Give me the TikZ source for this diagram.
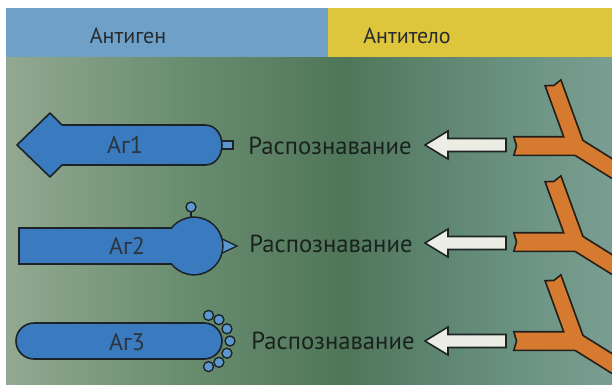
\documentclass[tikz,border=0pt]{standalone}
\usepackage{fontspec}
\setmainfont{PT Sans}

\definecolor{tissueA}{RGB}{196,204,192}
\definecolor{tissueB}{RGB}{160,178,158}
\definecolor{tissueC}{RGB}{104,140,110}
\definecolor{tissueD}{RGB}{80,118,90}
\definecolor{tissueE}{RGB}{108,148,132}
\definecolor{tissueF}{RGB}{142,173,166}
\definecolor{tissueG}{RGB}{168,189,184}
\pgfdeclarehorizontalshading{tissue}{100bp}{color(0bp)=(tissueA); color(4bp)=(tissueA); color(20bp)=(tissueB); color(40bp)=(tissueC); color(53bp)=(tissueD); color(68bp)=(tissueE); color(85bp)=(tissueF); color(100bp)=(tissueG)}

\tikzset{
  hdtext/.style={inner sep=0.75pt, font=\fontsize{16.5}{18}\selectfont, text={rgb, 255:red, 40; green, 44; blue, 46}},
  rectext/.style={inner sep=0.75pt, font=\fontsize{18.5}{20}\selectfont, text={rgb, 255:red, 26; green, 34; blue, 30}},
  aglabel/.style={inner sep=0.75pt, font=\fontsize{18}{20}\selectfont, text={rgb, 255:red, 44; green, 52; blue, 62}},
  agbody/.style={draw={rgb, 255:red, 28; green, 34; blue, 38}, line width=1.2pt, line join=round, fill={rgb, 255:red, 58; green, 122; blue, 190}},
  agline/.style={draw={rgb, 255:red, 28; green, 34; blue, 38}, line width=2.4pt},
  agfill/.style={fill={rgb, 255:red, 58; green, 122; blue, 190}},
  knob/.style={draw={rgb, 255:red, 28; green, 34; blue, 38}, line width=1pt, fill={rgb, 255:red, 92; green, 152; blue, 208}},
  recarrow/.style={draw={rgb, 255:red, 30; green, 36; blue, 36}, line width=1.2pt, line join=miter, fill={rgb, 255:red, 236; green, 238; blue, 230}},
  abline/.style={draw={rgb, 255:red, 34; green, 30; blue, 26}, line width=2.6pt, line join=miter},
  abfill/.style={fill={rgb, 255:red, 214; green, 122; blue, 48}}
}

\begin{document}
\begin{tikzpicture}[x=0.75pt,y=0.75pt,yscale=-1,xscale=1]
\useasboundingbox (0,0) rectangle (612,387);
\fill[white] (0,0) rectangle (612,387);

%Background
\shade[shading=tissue] (6,57) rectangle (612,384);

%Header bars
\fill[fill={rgb, 255:red, 110; green, 160; blue, 200}] (6,8) rectangle (328,57);
\fill[fill={rgb, 255:red, 222; green, 198; blue, 60}] (328,8) rectangle (612,57);
% Text Node
\node[hdtext] (hdantigen) at (128,36) {Антиген};
% Text Node
\node[hdtext] (hdantibody) at (407,36) {Антитело};

%Shape: Ag1 stub
\draw[knob] (220,141) rectangle (233,149);
%Shape: Ag1 body
\draw[agbody] (17,145) -- (50,113) -- (62,125) -- (205,125) .. controls (216,125) and (222,135) .. (222,145) .. controls (222,155) and (216,165) .. (205,165) -- (62,165) -- (50,177) -- cycle;

%Shape: Ag2 knobs
\draw[knob] (218,237) -- (237,246) -- (218,255) -- cycle;
\draw[knob] (191,212) -- (191,219);
\draw[knob] (191,207) circle (5);
%Shape: Ag2 body (outline first, then fill)
\draw[agline] (20,229) rectangle (172,263);
\draw[agline] (194,246) circle (28);
\fill[agfill] (20,229) rectangle (172,263);
\fill[agfill] (194,246) circle (28);

%Shape: Ag3 body
\draw[agbody, rounded corners=13.5pt] (16,323) rectangle (222,359);
%Shape: Ag3 knobs
\foreach \a in {-80,-55,-28,0,28,55,80}
  \draw[knob] (204,341) ++(\a:26) circle (5);

% Text Node
\node[aglabel] (ag1) at (125,145) {Аг1};
\node[aglabel] (ag2) at (127,246) {Аг2};
\node[aglabel] (ag3) at (127,342) {Аг3};

% Text Node
\node[rectext] (rec1) at (330,146) {Распознавание};
\node[rectext] (rec2) at (331,244) {Распознавание};
\node[rectext] (rec3) at (333,341) {Распознавание};

%Block arrows
\foreach \y in {145,243,341}
  \draw[recarrow] (425,\y) -- (448,\y-14) -- (448,\y-6.5) -- (506,\y-6.5) -- (506,\y+6.5) -- (448,\y+6.5) -- (448,\y+14) -- cycle;

%Antibodies
\begin{scope}
\clip (6,57) rectangle (612,384);
\foreach \y in {146,242,341} {
  \begin{scope}[shift={(576,\y)}]
    \foreach \r/\l/\w/\b in {180/61/8.5/0,-110/66/7.5/5,32/62/7.5/5}
      \draw[abline, rotate=\r] (-\b,-\w) -- (\l,-\w) -- (\l-2.5,0) -- (\l,\w) -- (-\b,\w) -- cycle;
    \foreach \r/\l/\w/\b in {180/61/8.5/0,-110/66/7.5/5,32/62/7.5/5}
      \fill[abfill, rotate=\r] (-\b,-\w) -- (\l,-\w) -- (\l-2.5,0) -- (\l,\w) -- (-\b,\w) -- cycle;
  \end{scope}
}
\end{scope}

\end{tikzpicture}
\end{document}
